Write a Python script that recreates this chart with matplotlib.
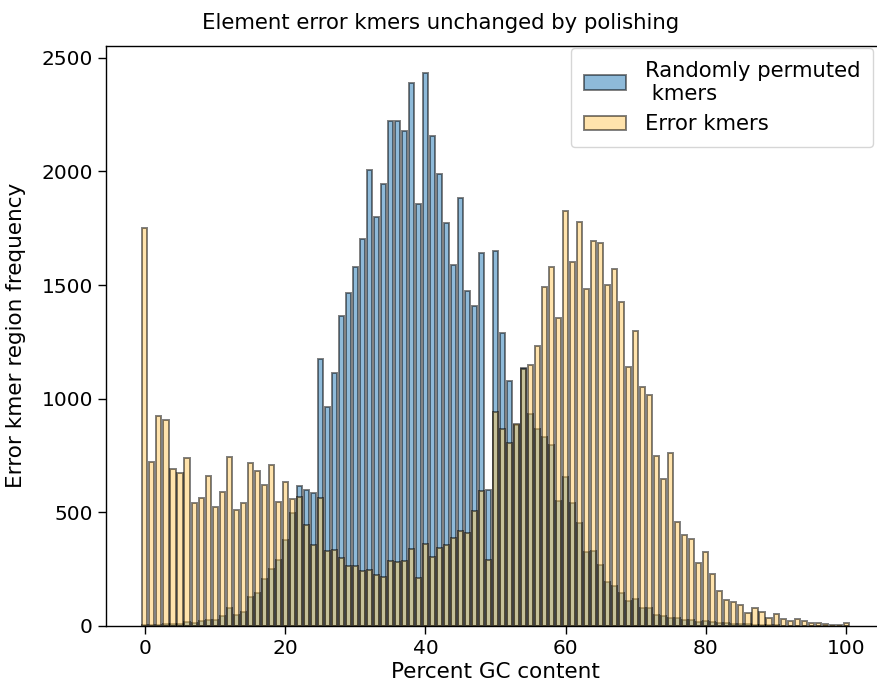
import numpy as np
import matplotlib
matplotlib.use("Agg")
import matplotlib.pyplot as plt

# GC content bins (percent) and counts per bin
gc_percent = np.arange(0, 101)

permuted_counts = [
    5, 4, 6, 10, 8, 8, 18, 15, 24, 28,
    25, 44, 81, 48, 62, 128, 145, 205, 250, 290,
    378, 497, 617, 597, 586, 1173, 962, 1112, 1366, 1466,
    1580, 1703, 2005, 1798, 1944, 2220, 2222, 2177, 2390, 1858,
    2432, 2156, 1991, 1775, 1587, 1884, 1474, 1408, 1640, 600,
    1650, 1288, 1080, 885, 1136, 934, 866, 832, 798, 548,
    656, 542, 455, 326, 332, 267, 195, 178, 147, 111,
    117, 78, 78, 48, 44, 37, 34, 26, 26, 19,
    23, 18, 14, 12, 10, 8, 8, 6, 5, 4,
    3, 2, 2, 1, 1, 1, 0, 0, 0, 0,
    0,
]

error_counts = [
    1750, 720, 923, 908, 690, 672, 737, 540, 562, 662,
    525, 590, 744, 510, 543, 718, 683, 620, 707, 546,
    634, 560, 567, 446, 357, 561, 330, 333, 299, 262,
    265, 240, 245, 225, 214, 288, 280, 288, 338, 211,
    360, 305, 342, 358, 385, 416, 410, 506, 595, 289,
    941, 869, 805, 890, 1132, 1148, 1233, 1493, 1581, 1357,
    1827, 1603, 1778, 1484, 1694, 1687, 1499, 1571, 1425, 1141,
    1296, 1053, 1018, 749, 647, 760, 456, 400, 381, 276,
    324, 227, 154, 114, 104, 92, 56, 81, 63, 37,
    51, 31, 23, 31, 22, 15, 12, 7, 4, 3,
    12,
]

labels = ["Randomly permuted\n kmers", "Error kmers"]

fig = plt.figure(figsize=(8.77, 6.92), dpi=100)
ax = fig.add_axes([0.1209, 0.0954, 0.8883, 0.8386])

ax.bar(gc_percent, permuted_counts, width=0.72, color="tab:blue",
       edgecolor="black", linewidth=1.4, alpha=0.5, label=labels[0])
ax.bar(gc_percent, error_counts, width=0.72, color="#ffc95a",
       edgecolor="black", linewidth=1.4, alpha=0.5, label=labels[1])

ax.set_xlim(-5.55, 105.55)
ax.set_xticks([0, 20, 40, 60, 80, 100])
ax.set_yticks([0, 500, 1000, 1500, 2000, 2500])
ax.tick_params(labelsize=14.5, length=6, width=1.0)
for s in ax.spines.values():
    s.set_linewidth(1.0)

ax.set_xlabel("Percent GC content", fontsize=15.5, labelpad=3)
ax.set_ylabel("Error kmer region frequency", fontsize=15.5, labelpad=11)
fig.text(441 / 877, 1 - 23 / 692, "Element error kmers unchanged by polishing",
         ha="center", va="center", fontsize=15.3)

ax.legend(loc="upper right", fontsize=15.2, bbox_to_anchor=(0.9846, 0.996),
          borderaxespad=0, borderpad=0.6, handletextpad=0.9)

fig.savefig("out.png", dpi=100)
